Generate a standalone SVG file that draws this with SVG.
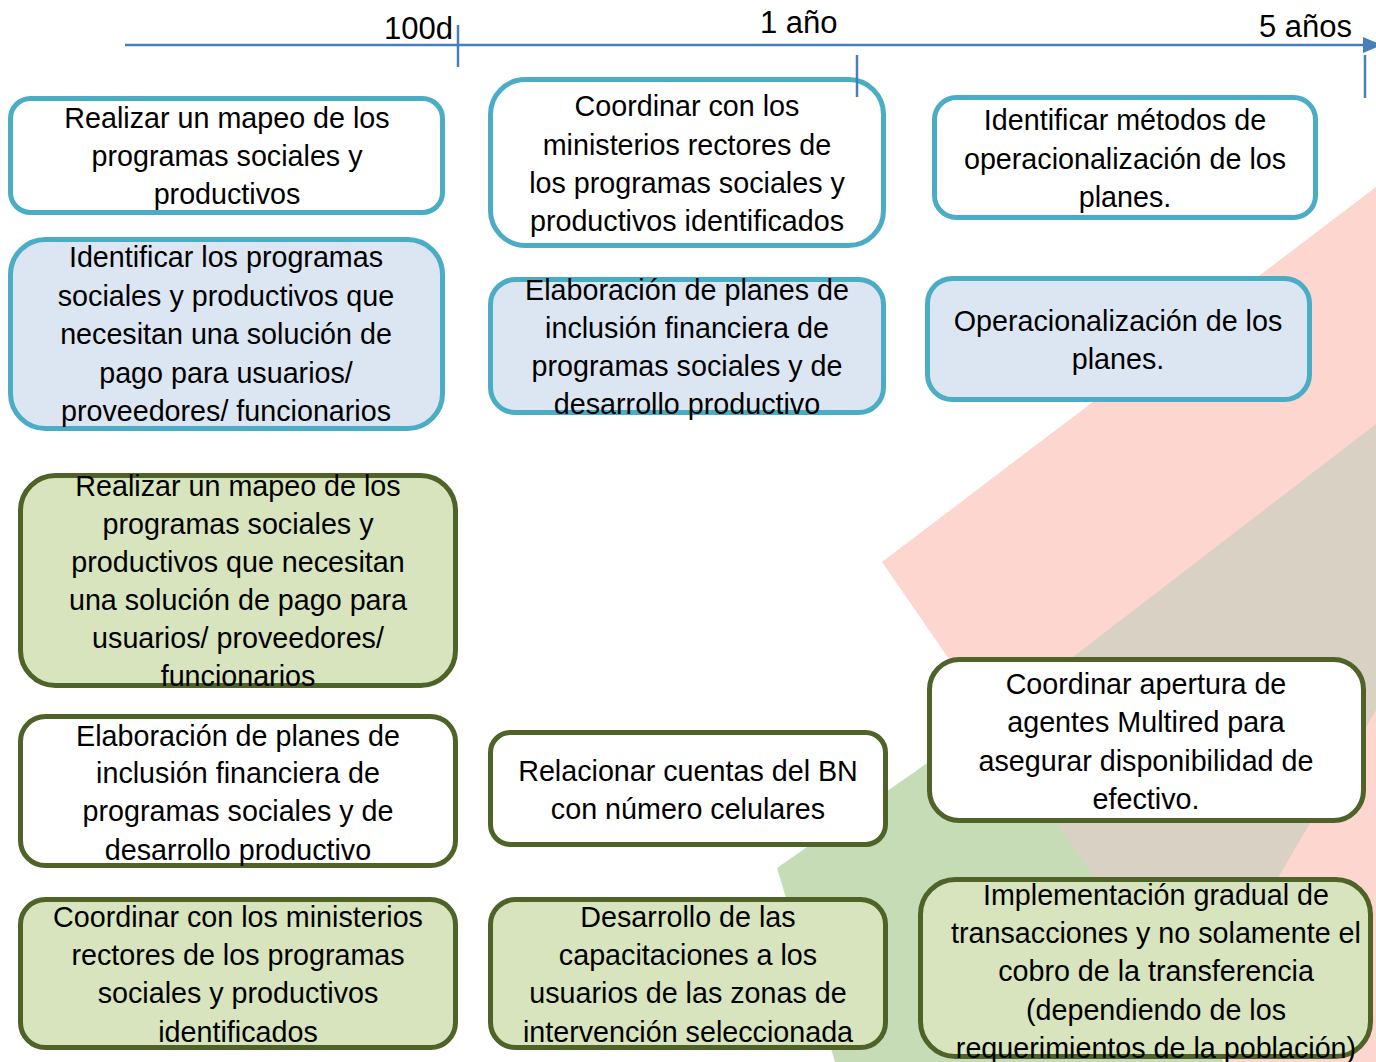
<svg xmlns="http://www.w3.org/2000/svg" width="1376" height="1062" viewBox="0 0 1376 1062">
<defs>
<style>
.t{font-family:"Liberation Sans",Arial,sans-serif;font-size:28.7px;fill:#000;text-anchor:middle}
.ax{font-family:"Liberation Sans",Arial,sans-serif;font-size:31px;fill:#000}
.bw{fill:#fff;stroke:#4bacc6;stroke-width:5}
.bb{fill:#dce6f2;stroke:#4bacc6;stroke-width:5}
.gw{fill:#fff;stroke:#4f6228;stroke-width:5}
.gg{fill:#d7e4bd;stroke:#4f6228;stroke-width:5}
.axl{stroke:#4a7ebb;stroke-width:2.5;fill:none}
</style>
</defs>
<g id="background">
<polygon points="882,562 1376,187 1376,1062 1227,1062" fill="#fdd6cf"/>
<polygon points="1000,713 1376,424 1376,710 1230,960 1000,960" fill="#d9d1c3"/>
<polygon points="777,868 986,722 1224,1062 835,1062" fill="#c5dcb6"/>
</g>
<g id="n1"><rect class="bw" x="10.5" y="98.5" width="432" height="114" rx="20"/>
<text class="t" x="227"><tspan x="227" y="128">Realizar un mapeo de los</tspan><tspan x="227" y="166">programas sociales y</tspan><tspan x="227" y="204">productivos</tspan></text></g>
<g id="n2"><rect class="bb" x="10.5" y="239.5" width="432" height="189" rx="35"/>
<text class="t"><tspan x="226" y="267">Identificar los programas</tspan><tspan x="226" y="306">sociales y productivos que</tspan><tspan x="226" y="344">necesitan una solución de</tspan><tspan x="226" y="383">pago para usuarios/</tspan><tspan x="226" y="421">proveedores/ funcionarios</tspan></text></g>
<g id="n3"><rect class="gg" x="20.5" y="475.5" width="435" height="210" rx="35"/>
<text class="t"><tspan x="238" y="496">Realizar un mapeo de los</tspan><tspan x="238" y="534">programas sociales y</tspan><tspan x="238" y="572">productivos que necesitan</tspan><tspan x="238" y="610">una solución de pago para</tspan><tspan x="238" y="648">usuarios/ proveedores/</tspan><tspan x="238" y="686">funcionarios</tspan></text></g>
<g id="n4"><rect class="gw" x="20.5" y="716.5" width="435" height="149" rx="25"/>
<text class="t"><tspan x="238" y="746">Elaboración de planes de</tspan><tspan x="238" y="783">inclusión financiera de</tspan><tspan x="238" y="821">programas sociales y de</tspan><tspan x="238" y="860">desarrollo productivo</tspan></text></g>
<g id="n5"><rect class="gg" x="20.5" y="899.5" width="435" height="148" rx="25"/>
<text class="t"><tspan x="238" y="927">Coordinar con los ministerios</tspan><tspan x="238" y="965">rectores de los programas</tspan><tspan x="238" y="1003">sociales y productivos</tspan><tspan x="238" y="1042">identificados</tspan></text></g>
<g id="n6"><rect class="bw" x="490.5" y="79.5" width="393" height="166" rx="35"/>
<text class="t"><tspan x="687" y="116">Coordinar con los</tspan><tspan x="687" y="155">ministerios rectores de</tspan><tspan x="687" y="193">los programas sociales y</tspan><tspan x="687" y="231">productivos identificados</tspan></text></g>
<g id="n7"><rect class="bb" x="490.5" y="279.5" width="393" height="133" rx="25"/>
<text class="t"><tspan x="687" y="300">Elaboración de planes de</tspan><tspan x="687" y="338">inclusión financiera de</tspan><tspan x="687" y="376">programas sociales y de</tspan><tspan x="687" y="414">desarrollo productivo</tspan></text></g>
<g id="n8"><rect class="gw" x="490.5" y="732.5" width="395" height="112" rx="20"/>
<text class="t"><tspan x="688" y="781">Relacionar cuentas del BN</tspan><tspan x="688" y="819">con número celulares</tspan></text></g>
<g id="n9"><rect class="gg" x="490.5" y="899.5" width="395" height="148" rx="25"/>
<text class="t"><tspan x="688" y="927">Desarrollo de las</tspan><tspan x="688" y="965">capacitaciones a los</tspan><tspan x="688" y="1003">usuarios de las zonas de</tspan><tspan x="688" y="1042">intervención seleccionada</tspan></text></g>
<g id="n10"><rect class="bw" x="934.5" y="97.5" width="381" height="120" rx="22"/>
<text class="t"><tspan x="1125" y="130">Identificar métodos de</tspan><tspan x="1125" y="169">operacionalización de los</tspan><tspan x="1125" y="207">planes.</tspan></text></g>
<g id="n11"><rect class="bb" x="927.5" y="278.5" width="382" height="121" rx="25"/>
<text class="t"><tspan x="1118" y="331">Operacionalización de los</tspan><tspan x="1118" y="369">planes.</tspan></text></g>
<g id="n12"><rect class="gw" x="929.5" y="659.5" width="434" height="161" rx="30"/>
<text class="t"><tspan x="1146" y="694">Coordinar apertura de</tspan><tspan x="1146" y="732">agentes Multired para</tspan><tspan x="1146" y="771">asegurar disponibilidad de</tspan><tspan x="1146" y="809">efectivo.</tspan></text></g>
<g id="n13"><rect class="gg" x="920.5" y="879.5" width="450" height="177" rx="35"/>
<text class="t"><tspan x="1156" y="905">Implementación gradual de</tspan><tspan x="1156" y="943">transacciones y no solamente el</tspan><tspan x="1156" y="981">cobro de la transferencia</tspan><tspan x="1156" y="1020">(dependiendo de los</tspan><tspan x="1156" y="1058">requerimientos de la población)</tspan></text></g>
<g id="axis">
<line class="axl" x1="125" y1="45" x2="1366" y2="45"/>
<polygon points="1363,37 1382,45 1363,53" fill="#4a7ebb"/>
<line class="axl" x1="458" y1="25" x2="458" y2="67"/>
<line class="axl" x1="857" y1="55" x2="857" y2="97"/>
<line class="axl" x1="1365" y1="55" x2="1365" y2="98"/>
<text class="ax" x="453" y="39" text-anchor="end">100d</text>
<text class="ax" x="760" y="33">1 año</text>
<text class="ax" x="1352" y="37" text-anchor="end">5 años</text>
</g>
</svg>
